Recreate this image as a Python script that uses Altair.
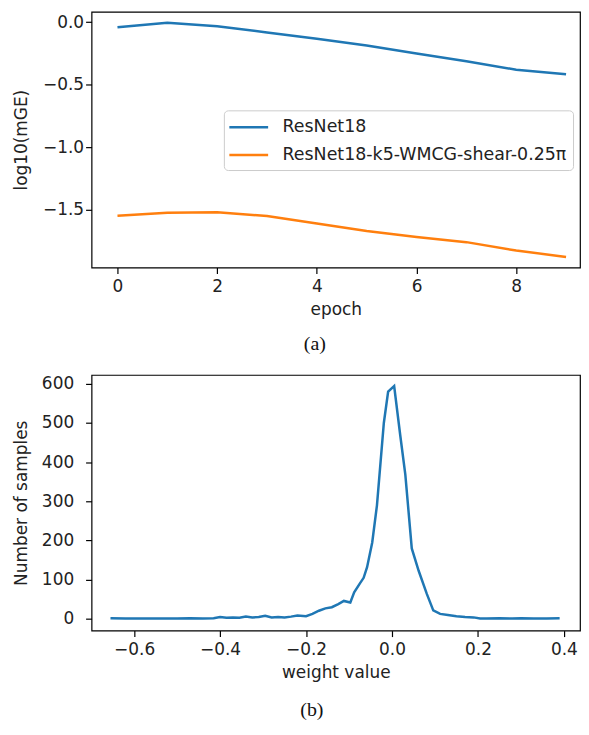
import altair as alt
import pandas as pd

# ---- panel (a) data ----
epochs = [0, 1, 2, 3, 4, 5, 6, 7, 8, 9]
resnet18 = [-0.040, -0.005, -0.032, -0.082, -0.133, -0.186, -0.250, -0.313, -0.380, -0.417]
resnet18_wmcg = [-1.548, -1.524, -1.521, -1.551, -1.610, -1.670, -1.718, -1.760, -1.827, -1.878]
series_names = ["ResNet18", "ResNet18-k5-WMCG-shear-0.25π"]
series_colors = ["#1f77b4", "#ff7f0e"]
epoch_ticks = [0, 2, 4, 6, 8]
log_ticks = [0.0, -0.5, -1.0, -1.5]

# ---- panel (b) data ----
weight_values = [-0.655, -0.62, -0.58, -0.54, -0.50, -0.47, -0.44, -0.415, -0.40, -0.385,
                 -0.37, -0.355, -0.34, -0.325, -0.31, -0.295, -0.28, -0.265, -0.25, -0.235,
                 -0.22, -0.20, -0.185, -0.17, -0.155, -0.14, -0.125, -0.112, -0.097, -0.088,
                 -0.075, -0.066, -0.058, -0.046, -0.035, -0.019, -0.009, 0.005, 0.019, 0.031,
                 0.046, 0.062, 0.081, 0.096, 0.112, 0.13, 0.15, 0.17, 0.19, 0.205,
                 0.22, 0.25, 0.28, 0.30, 0.33, 0.36, 0.39]
sample_counts = [2, 1, 1, 1, 1, 2, 1, 2, 5, 3,
                 4, 3, 6, 4, 5, 8, 4, 5, 4, 6,
                 9, 7, 13, 21, 27, 30, 38, 46, 42, 68,
                 90, 105, 132, 195, 290, 500, 580, 594, 470, 368,
                 180, 123, 64, 22, 13, 10, 7, 5, 4, 1,
                 1, 2, 1, 2, 1, 1, 2]
weight_ticks = [-0.6, -0.4, -0.2, 0.0, 0.2, 0.4]
count_ticks = [0, 100, 200, 300, 400, 500, 600]

rows = []
for name, vals in zip(series_names, [resnet18, resnet18_wmcg]):
    for e, v in zip(epochs, vals):
        rows.append({"epoch": e, "value": v, "series": name})
df_a = pd.DataFrame(rows)
df_b = pd.DataFrame({"weight": weight_values, "count": sample_counts})

FONT = "DejaVu Sans"

top = alt.Chart(df_a).mark_line(strokeWidth=2.5).encode(
    x=alt.X("epoch:Q",
            scale=alt.Scale(domain=[-0.52, 9.28], nice=False, zero=False),
            axis=alt.Axis(values=epoch_ticks, format="d", title="epoch",
                          labelPadding=5, titlePadding=7)),
    y=alt.Y("value:Q",
            scale=alt.Scale(domain=[-1.963, 0.083], nice=False, zero=False),
            axis=alt.Axis(values=log_ticks, format=".1f", title="log10(mGE)",
                          labelPadding=2, minExtent=61, maxExtent=61, titlePadding=0)),
    color=alt.Color("series:N",
                    scale=alt.Scale(domain=series_names, range=series_colors),
                    legend=alt.Legend(title=None, orient="none", legendX=133, legendY=99,
                                      symbolType="M-2,0H2", symbolSize=380,
                                      symbolStrokeWidth=2.5, symbolOffset=8,
                                      labelFontSize=17.5,
                                      labelFont=FONT, labelColor="#222222",
                                      fillColor="white", strokeColor="#cccccc",
                                      cornerRadius=4, padding=6, rowPadding=8,
                                      labelOffset=23, labelLimit=400)),
).properties(
    width=491, height=257,
    title=alt.TitleParams("(a)", orient="bottom", font="Liberation Serif", fontSize=20,
                          fontWeight="normal", color="#111111", dx=-21, offset=17,
                          anchor="middle", frame="group"),
)

bottom = alt.Chart(df_b).mark_line(strokeWidth=2.5, color="#1f77b4").encode(
    x=alt.X("weight:Q",
            scale=alt.Scale(domain=[-0.699, 0.4374], nice=False, zero=False),
            axis=alt.Axis(values=weight_ticks, format=".1f", title="weight value",
                          labelPadding=5, titlePadding=7)),
    y=alt.Y("count:Q",
            scale=alt.Scale(domain=[-29.7, 622.5], nice=False, zero=False),
            axis=alt.Axis(values=count_ticks, format="d", title="Number of samples",
                          labelPadding=12, minExtent=61, maxExtent=61, titlePadding=0)),
).properties(
    width=491, height=257,
    title=alt.TitleParams("(b)", orient="bottom", font="Liberation Serif", fontSize=20,
                          fontWeight="normal", color="#111111", dx=-24, offset=20,
                          anchor="middle", frame="group"),
)

chart = alt.concat(top, bottom, columns=1, spacing=19).properties(
    padding={"left": 4, "top": 1, "right": 0, "bottom": 0},
).configure_view(
    stroke="black", strokeWidth=1.2
).configure_axis(
    domain=False, grid=False, tickColor="black", tickSize=6, tickWidth=1.2,
    labelFont=FONT, labelFontSize=17, labelColor="#222222",
    titleFont=FONT, titleFontSize=17, titleFontWeight="normal", titleColor="#222222",
)

chart.save("out.html", embed_options={"renderer": "svg", "actions": False})
